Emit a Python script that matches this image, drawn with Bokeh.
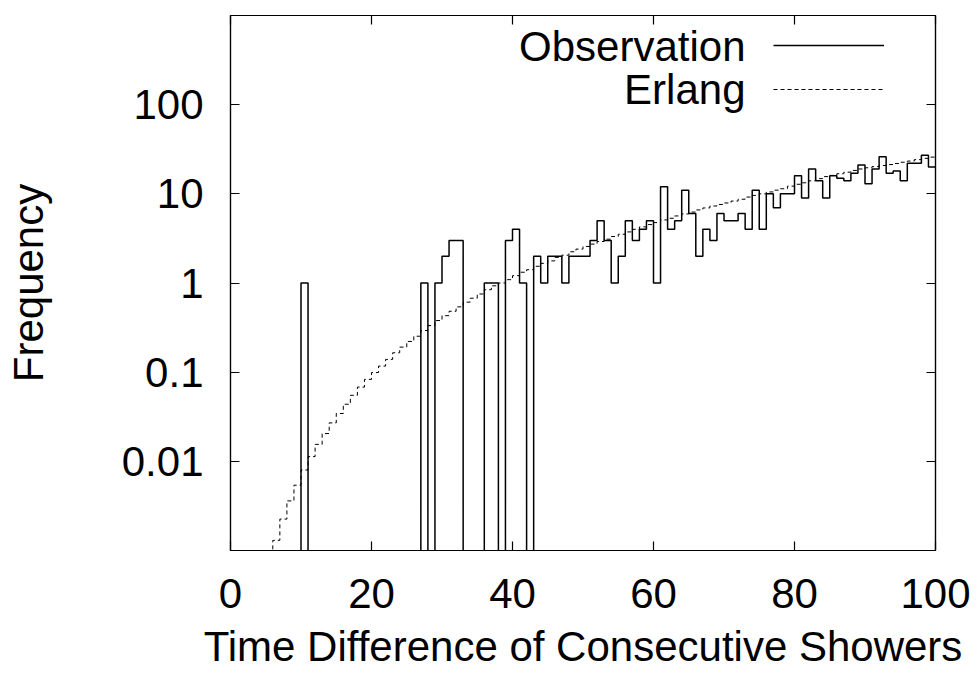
import numpy as np
from bokeh.plotting import figure
from bokeh.models import (Range1d, FixedTicker, LinearAxis, LogAxis, Label,
                          Legend, LegendItem, CustomJSTickFormatter)
from bokeh.embed import file_html
from bokeh.resources import INLINE

# ---------------- data ----------------
obs_first_bin = 0
observation = [
    0, 0, 0, 0, 0, 0, 0, 0, 0, 0,          # 0-9
    1, 0, 0, 0, 0, 0, 0, 0, 0, 0,          # 10-19
    0, 0, 0, 0, 0, 0, 0, 1, 0, 1,          # 20-29
    2, 3, 3, 0, 0, 0, 1, 1, 0, 3,          # 30-39
    4, 1, 0, 2, 1, 2, 2, 1, 2, 2,          # 40-49
    2, 3, 5, 3, 1, 2, 5, 3, 4, 5,          # 50-59
    1, 12, 4, 5, 11, 6, 2, 4, 3, 6,        # 60-69
    5, 5, 6, 4, 11, 4, 10, 7, 10, 10,      # 70-79
    16, 9, 19, 14, 9, 16, 15, 14, 17, 21,  # 80-89
    13, 19, 26, 17, 18, 14, 22, 22, 27, 20,  # 90-99
]

erlang_first_bin = 5
erlang = [
    0.0006, 0.0013, 0.00225, 0.0036, 0.0054,            # 5-9
    0.008, 0.0113, 0.0155, 0.0205, 0.027,               # 10-14
    0.0344, 0.0437, 0.055, 0.068, 0.083,                # 15-19
    0.099, 0.117, 0.139, 0.165, 0.191,                  # 20-24
    0.221, 0.253, 0.293, 0.333, 0.379,                  # 25-29
    0.43, 0.482, 0.54, 0.61, 0.675,                     # 30-34
    0.753, 0.84, 0.93, 1.0, 1.09,                       # 35-39
    1.21, 1.32, 1.41, 1.54, 1.66,                       # 40-44
    1.77, 1.94, 2.05, 2.24, 2.4,                        # 45-49
    2.57, 2.73, 2.92, 3.1, 3.32,                        # 50-54
    3.52, 3.74, 4.0, 4.26, 4.52,                        # 55-59
    4.76, 5.1, 5.32, 5.65, 5.95,                        # 60-64
    6.25, 6.6, 6.95, 7.3, 7.6,                          # 65-69
    7.9, 8.3, 8.7, 9.2, 9.6,                            # 70-74
    10.0, 10.5, 11.0, 11.4, 12.2,                       # 75-79
    12.8, 13.3, 14.0, 14.8, 15.6,                       # 80-84
    16.1, 16.8, 17.5, 18.3, 19.0,                       # 85-89
    19.6, 20.2, 20.8, 21.3, 21.9,                       # 90-94
    22.6, 23.3, 24.2, 25.0, 25.8,                       # 95-99
]

x_ticks = [0, 20, 40, 60, 80, 100]
y_ticks = [0.001, 0.01, 0.1, 1, 10, 100, 1000]
series_names = ["Observation", "Erlang"]
x_title = "Time Difference of Consecutive Showers"
y_title = "Frequency"

# ---------------- figure ----------------
FONT = "Liberation Sans"
FS = "42px"

p = figure(width=977, height=673,
           x_range=Range1d(0, 100), y_range=Range1d(0.001, 1000),
           y_axis_type="log", output_backend="svg", toolbar_location=None,
           min_border_left=230, min_border_right=42,
           min_border_top=15, min_border_bottom=123)
p.grid.visible = False
p.outline_line_color = "black"
p.outline_line_width = 1.2
p.background_fill_color = "white"
p.border_fill_color = "white"

def step_xy(first_bin, vals, floor=1e-6):
    v = np.asarray(vals, dtype=float)
    v = np.where(v > 0, v, floor)
    x = np.arange(first_bin, first_bin + len(v) + 1)
    y = np.append(v, v[-1])
    return x, y

ox, oy = step_xy(obs_first_bin, observation)
ex, ey = step_xy(erlang_first_bin, erlang)

r_obs = p.step(ox, oy, mode="after", line_color="black", line_width=1.5)
r_erl = p.step(ex, ey, mode="after", line_color="black", line_width=1.0,
               line_dash="4 3")

ylab_fmt = CustomJSTickFormatter(
    code="if (tick < 0.005 || tick > 500) { return ''; } return String(tick);")

def style_axis(ax, labels=True):
    ax.axis_line_color = "black"
    ax.axis_line_width = 1.2
    ax.major_tick_in = 9
    ax.major_tick_out = 0
    ax.major_tick_line_color = "black"
    ax.major_tick_line_width = 1.2
    ax.minor_tick_line_color = None
    if labels:
        ax.major_label_text_font = FONT
        ax.major_label_text_font_size = FS
        ax.major_label_text_color = "black"
        ax.axis_label_text_font = FONT
        ax.axis_label_text_font_size = FS
        ax.axis_label_text_font_style = "normal"
        ax.axis_label_text_color = "black"
    else:
        ax.major_label_text_font_size = "1px"
        ax.major_label_text_alpha = 0
        ax.major_label_standoff = 0

xa = p.xaxis[0]
xa.ticker = FixedTicker(ticks=x_ticks)
style_axis(xa)
xa.major_label_standoff = 28
xa.axis_label = x_title
xa.axis_label_standoff = 12

ya = p.yaxis[0]
ya.ticker = FixedTicker(ticks=y_ticks)
ya.formatter = ylab_fmt
style_axis(ya)
ya.major_label_standoff = 27
ya.axis_label = y_title
ya.axis_label_standoff = 67

top_ax = LinearAxis(ticker=FixedTicker(ticks=x_ticks))
style_axis(top_ax, labels=False)
p.add_layout(top_ax, "above")

right_ax = LogAxis(ticker=FixedTicker(ticks=y_ticks))
style_axis(right_ax, labels=False)
p.add_layout(right_ax, "right")

def screen_label(x, y, text, align):
    return Label(x=x, y=y, x_units="screen", y_units="screen",
                 text=text, text_align=align, text_baseline="alphabetic",
                 text_font=FONT, text_font_size=FS, text_color="black")

# legend: text on the left (labels), line samples on the right (Legend glyphs)
p.add_layout(screen_label(515, 504, series_names[0], "right"))
p.add_layout(screen_label(515, 461, series_names[1], "right"))

legend = Legend(items=[LegendItem(label=" ", renderers=[r_obs]),
                       LegendItem(label=" ", renderers=[r_erl])],
                location=(543, 439), padding=0, margin=0, spacing=0,
                glyph_width=111, glyph_height=44, label_standoff=0,
                label_width=0, label_height=0, label_text_font_size="1px",
                border_line_alpha=0, background_fill_alpha=0)
p.add_layout(legend, "center")

with open("out.html", "w") as f:
    f.write(file_html(p, INLINE))
